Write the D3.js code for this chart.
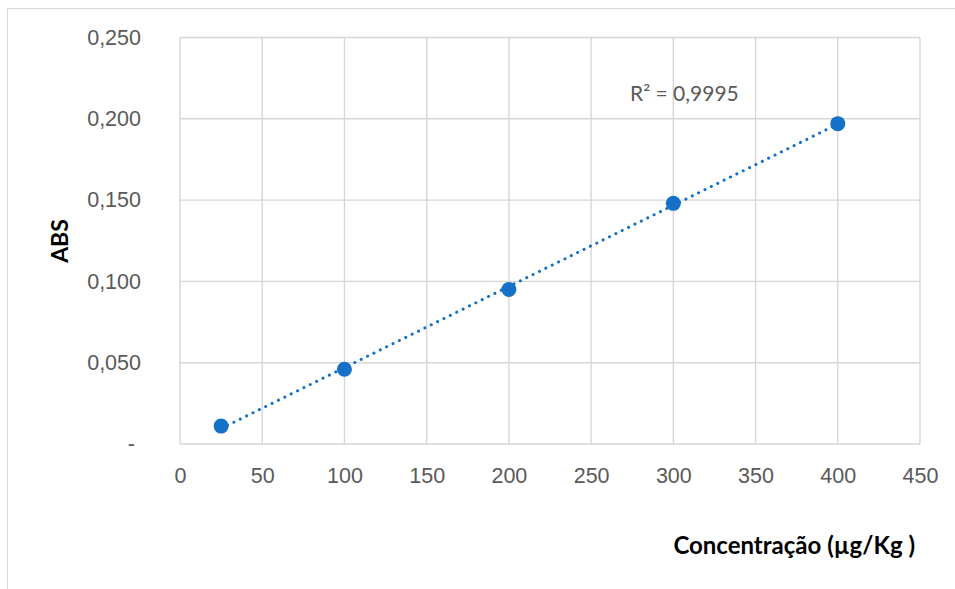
<!DOCTYPE html>
<html>
<head>
<meta charset="utf-8">
<script src="https://cdn.jsdelivr.net/npm/d3@7"></script>
<style>
  body { margin: 0; background: #fff; }
  svg { display: block; font-family: Lato, "Open Sans", sans-serif; }
</style>
</head>
<body>
<div id="svgDiv"></div>
<script>
// chart data
var concentracao = [25, 100, 200, 300, 400];
var abs = [0.011, 0.046, 0.095, 0.148, 0.197];
var xTicks = [0, 50, 100, 150, 200, 250, 300, 350, 400, 450];
var yTicks = [0, 0.05, 0.10, 0.15, 0.20, 0.25];
var r2Label = "R² = 0,9995";
var xTitle = "Concentração (µg/Kg )";
var yTitle = "ABS";

var svgWidth = 955, svgHeight = 589;
var margin = {left: 180, top: 37.5, right: 35, bottom: 145};
var blue = "#1570c8";

var svg = d3.select("#svgDiv")
    .append("svg")
    .attr("width", svgWidth)
    .attr("height", svgHeight);

// chart frame (runs off the right and bottom edge)
svg.append("rect")
    .attr("x", 7.5).attr("y", 8.5)
    .attr("width", 1000).attr("height", 1000)
    .attr("fill", "none")
    .attr("stroke", "#d9d9d9");

var xScale = d3.scaleLinear()
    .domain([0, 450])
    .range([margin.left, svgWidth - margin.right]);

var yScale = d3.scaleLinear()
    .domain([0, 0.25])
    .range([svgHeight - margin.bottom, margin.top]);

// gridlines
svg.append("g")
    .selectAll("line.v")
    .data(xTicks)
    .enter().append("line")
    .attr("x1", d => xScale(d)).attr("x2", d => xScale(d))
    .attr("y1", yScale(0)).attr("y2", yScale(0.25))
    .attr("stroke", "#d6d6d6").attr("stroke-width", 1.4);

svg.append("g")
    .selectAll("line.h")
    .data(yTicks)
    .enter().append("line")
    .attr("x1", xScale(0)).attr("x2", xScale(450))
    .attr("y1", d => yScale(d)).attr("y2", d => yScale(d))
    .attr("stroke", "#d6d6d6").attr("stroke-width", 1.4);

// axes (labels only, Excel style)
var fmt = d => d === 0 ? "-" : d.toFixed(3).replace(".", ",");

var xAxis = svg.append("g")
    .attr("transform", "translate(0," + yScale(0) + ")")
    .call(d3.axisBottom(xScale).tickValues(xTicks).tickSize(0).tickPadding(24));
xAxis.select(".domain").remove();
xAxis.selectAll("text")
    .attr("fill", "#595959")
    .style("font-size", "21.5px");

var yAxis = svg.append("g")
    .attr("transform", "translate(" + (xScale(0) - 39) + ",0)")
    .call(d3.axisLeft(yScale).tickValues(yTicks).tickSize(0).tickPadding(0).tickFormat(fmt));
yAxis.select(".domain").remove();
yAxis.selectAll("text")
    .attr("fill", "#595959")
    .style("font-size", "21.5px");
yAxis.selectAll(".tick")
    .filter(d => d === 0)
    .select("text")
    .attr("dx", -6);

// linear trendline from least squares
var mx = d3.mean(concentracao), my = d3.mean(abs);
var sxy = d3.sum(concentracao, (x, i) => (x - mx) * (abs[i] - my));
var sxx = d3.sum(concentracao, x => (x - mx) * (x - mx));
var slope = sxy / sxx, intercept = my - slope * mx;
var xExt = d3.extent(concentracao);

svg.append("line")
    .attr("x1", xScale(xExt[0])).attr("y1", yScale(intercept + slope * xExt[0]))
    .attr("x2", xScale(xExt[1])).attr("y2", yScale(intercept + slope * xExt[1]))
    .attr("stroke", blue)
    .attr("stroke-width", 3)
    .attr("stroke-linecap", "round")
    .attr("stroke-dasharray", "0.1 7");

// points
svg.selectAll("circle.pt")
    .data(concentracao)
    .enter().append("circle")
    .attr("cx", d => xScale(d))
    .attr("cy", (d, i) => yScale(abs[i]))
    .attr("r", 7.5)
    .attr("fill", blue);

// R² label
svg.append("text")
    .attr("x", 630).attr("y", 101)
    .attr("fill", "#595959")
    .style("font-size", "21px")
    .text(r2Label);

// axis titles
svg.append("text")
    .attr("x", 915).attr("y", 554)
    .attr("text-anchor", "end")
    .style("font-size", "24px")
    .style("font-weight", "bold")
    .text(xTitle);

svg.append("text")
    .attr("transform", "translate(68,241) rotate(-90)")
    .attr("text-anchor", "middle")
    .style("font-size", "23px")
    .style("font-weight", "bold")
    .text(yTitle);
</script>
</body>
</html>
